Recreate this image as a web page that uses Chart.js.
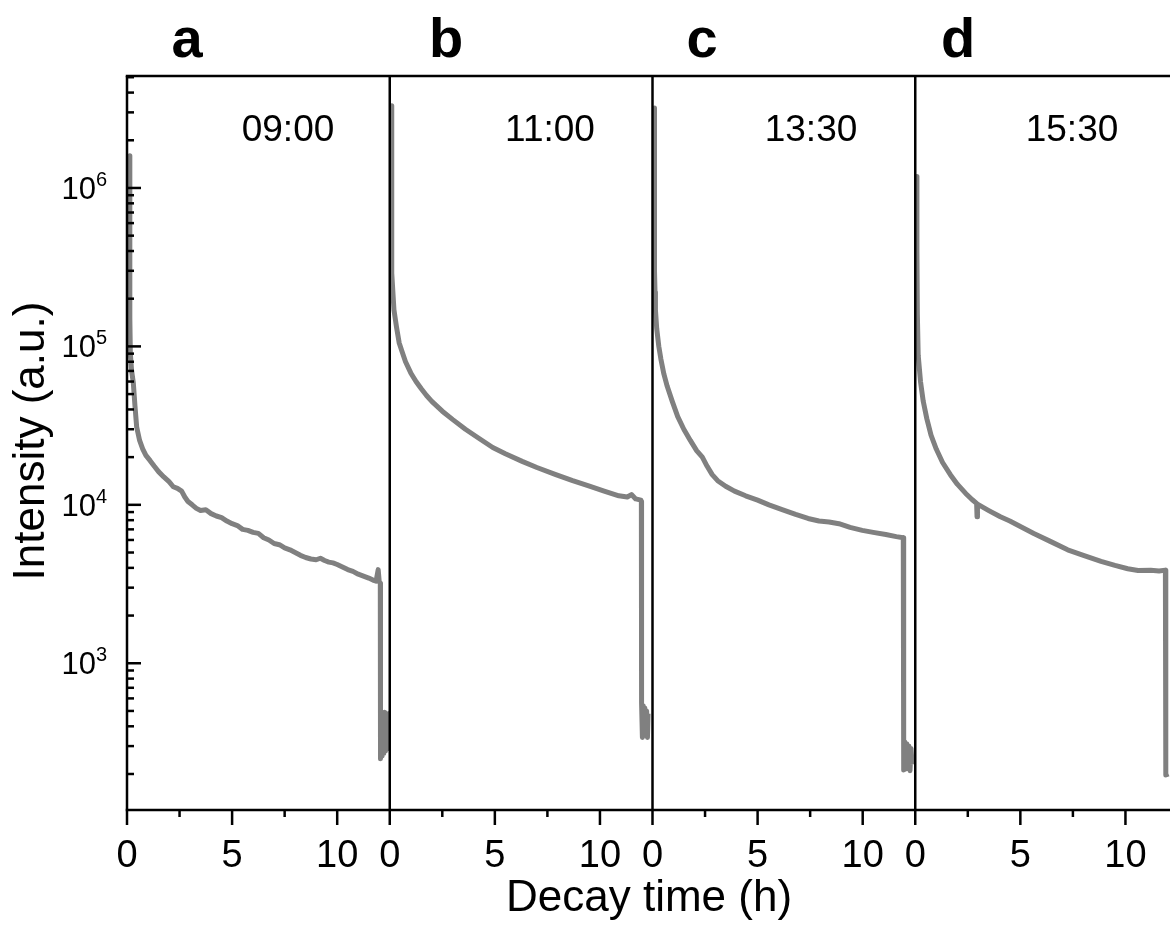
<!DOCTYPE html>
<html>
<head>
<meta charset="utf-8">
<script src="https://cdn.jsdelivr.net/npm/chart.js@4.4.1/dist/chart.umd.min.js"></script>
<style>
  html, body { margin: 0; padding: 0; background: #fff; overflow: hidden; width: 1170px; height: 929px; }
  #wrap { position: absolute; left: 0; top: 0; width: 1178px; height: 929px; }
  canvas { display: block; }
</style>
</head>
<body>
<div id="wrap"><canvas id="c" width="1178" height="929"></canvas></div>
<script>
// ---------------- data ----------------
const panelLetters = ['a', 'b', 'c', 'd'];
const panelTimes = ['09:00', '11:00', '13:30', '15:30'];
const xTickValues = [0, 5, 10];
const xMinorTicks = [2.5, 7.5];
const yLabelExponents = [3, 4, 5, 6];
const yDecades = [1e2, 1e3, 1e4, 1e5, 1e6];
const xMin = 0, xMax = 12.5;
const yMin = 118.5, yMax = 5.09e6;

// [decay time (h), intensity (a.u.)]
const panelA = [[0.12,1.6e6],[0.13,4e5],[0.14,1.5e5],[0.16,9e4],[0.22,7e4],[0.30,5.9e4],[0.38,4.2e4],[0.46,3.1e4],
  [0.60,2.55e4],[0.75,2.25e4],[0.90,2.05e4],[1.10,1.9e4],[1.30,1.75e4],[1.50,1.62e4],[1.75,1.5e4],[2.00,1.4e4],
  [2.20,1.3e4],[2.40,1.27e4],[2.60,1.22e4],[2.75,1.12e4],[2.90,1.05e4],[3.10,1.0e4],[3.30,9.5e3],[3.50,9.2e3],
  [3.75,9.3e3],[4.00,8.8e3],[4.25,8.5e3],[4.50,8.3e3],[4.75,7.9e3],[5.00,7.6e3],[5.25,7.4e3],[5.50,7.0e3],
  [5.75,6.9e3],[6.00,6.7e3],[6.25,6.6e3],[6.50,6.2e3],[6.75,6.0e3],[7.00,5.7e3],[7.25,5.6e3],[7.50,5.35e3],
  [7.75,5.2e3],[8.00,5.0e3],[8.25,4.8e3],[8.50,4.65e3],[8.75,4.55e3],[9.00,4.5e3],[9.20,4.6e3],[9.40,4.45e3],
  [9.60,4.35e3],[9.80,4.3e3],[10.00,4.2e3],[10.25,4.05e3],[10.50,3.9e3],[10.75,3.8e3],[11.00,3.65e3],[11.25,3.55e3],
  [11.50,3.45e3],[11.70,3.35e3],[11.85,3.3e3],[11.95,3.9e3],[12.00,3.27e3],[12.05,3.2e3],[12.06,250],[12.10,480],
  [12.14,260],[12.18,470],[12.22,270],[12.26,490],[12.30,280],[12.34,460],[12.38,300],[12.42,480],[12.45,290]];

const panelB = [[0.08,3.3e6],[0.09,1e6],[0.10,2.9e5],[0.20,1.7e5],[0.32,1.33e5],[0.45,1.05e5],[0.56,9.5e4],
  [0.75,8.0e4],[1.00,6.8e4],[1.25,6.0e4],[1.50,5.4e4],[1.75,4.9e4],[2.00,4.5e4],[2.50,3.9e4],[3.00,3.45e4],
  [3.60,3.0e4],[4.20,2.65e4],[4.90,2.3e4],[5.50,2.1e4],[6.30,1.88e4],[7.00,1.72e4],[7.90,1.55e4],[8.70,1.42e4],
  [9.50,1.31e4],[10.20,1.22e4],[10.90,1.14e4],[11.30,1.12e4],[11.50,1.16e4],[11.70,1.09e4],[11.95,1.07e4],
  [11.97,1.05e4],[11.98,560],[12.02,340],[12.06,540],[12.10,360],[12.14,520],[12.18,350],[12.22,500],[12.26,340],[12.29,480]];

const panelC = [[0.08,3.2e6],[0.09,8e5],[0.10,3e5],[0.12,2.2e5],[0.14,1.7e5],[0.20,1.3e5],[0.30,1.0e5],[0.40,8.3e4],
  [0.54,6.7e4],[0.70,5.6e4],[0.94,4.5e4],[1.20,3.6e4],[1.49,3.0e4],[1.80,2.55e4],[2.10,2.2e4],[2.37,2.0e4],
  [2.60,1.75e4],[2.84,1.55e4],[3.10,1.42e4],[3.48,1.31e4],[3.90,1.22e4],[4.43,1.14e4],[5.00,1.07e4],[5.54,1.0e4],
  [6.20,9.3e3],[6.81,8.7e3],[7.40,8.2e3],[7.92,7.9e3],[8.40,7.8e3],[8.87,7.6e3],[9.40,7.2e3],[9.98,6.9e3],
  [10.50,6.7e3],[11.10,6.5e3],[11.60,6.3e3],[11.93,6.2e3],[11.95,212],[12.00,320],[12.05,215],[12.10,310],
  [12.15,220],[12.20,300],[12.25,210],[12.30,290],[12.35,230]];

const panelD = [[0.07,1.18e6],[0.08,4e5],[0.10,1.6e5],[0.14,8.8e4],[0.25,6.0e4],[0.38,4.5e4],[0.55,3.5e4],
  [0.75,2.75e4],[1.00,2.25e4],[1.30,1.85e4],[1.67,1.55e4],[2.00,1.35e4],[2.40,1.18e4],[2.70,1.08e4],[2.92,1.02e4],
  [2.94,8.4e3],[2.96,1.01e4],[3.50,9.2e3],[4.05,8.4e3],[4.50,7.9e3],[5.00,7.3e3],[5.64,6.6e3],[6.40,5.9e3],
  [7.25,5.2e3],[8.00,4.8e3],[8.84,4.4e3],[9.50,4.15e3],[10.11,3.95e3],[10.60,3.85e3],[11.20,3.87e3],[11.60,3.82e3],
  [11.90,3.87e3],[11.92,197],[12.05,200]];

const panels = [panelA, panelB, panelC, panelD];

// ---------------- style ----------------
const FONT = '"Liberation Sans", Arial, Helvetica, sans-serif';
const LINE_COLOR = 'rgb(128,128,128)';
const AXIS_W = 2.5;

const xScaleIds = ['x0', 'x1', 'x2', 'x3'];

function noPad(s) { s.paddingLeft = 0; s.paddingRight = 0; s.paddingTop = 0; s.paddingBottom = 0; }

const scales = {
  y: {
    type: 'logarithmic', position: 'left', min: yMin, max: yMax,
    grid: { display: false, drawTicks: false }, border: { display: false },
    ticks: { display: false },
    afterFit: s => { s.width = 127; noPad(s); }
  }
};
xScaleIds.forEach(id => {
  scales[id] = {
    type: 'linear', position: 'bottom', stack: 'panels', stackWeight: 1,
    min: xMin, max: xMax,
    grid: { display: false, drawTicks: false }, border: { display: false },
    ticks: { color: '#000', font: { family: FONT, size: 38 }, padding: 24, autoSkip: false, maxRotation: 0, minRotation: 0 },
    afterBuildTicks: s => { s.ticks = xTickValues.map(v => ({ value: v })); },
    afterFit: s => { s.height = 119; noPad(s); }
  };
});

const datasets = panels.map((p, i) => ({
  label: panelTimes[i],
  data: p.map(([t, v]) => ({ x: t, y: v })),
  xAxisID: xScaleIds[i], yAxisID: 'y',
  borderColor: LINE_COLOR, borderWidth: 5, pointRadius: 0, tension: 0, fill: false,
  borderJoinStyle: 'round', borderCapStyle: 'butt'
}));

function seg(ctx, x1, y1, x2, y2) { ctx.beginPath(); ctx.moveTo(x1, y1); ctx.lineTo(x2, y2); ctx.stroke(); }

const framePlugin = {
  id: 'frame',
  afterDatasetsDraw(chart) {
    const { ctx, chartArea: a, scales: sc } = chart;
    const y = sc.y;
    ctx.save();
    ctx.strokeStyle = '#000';
    ctx.lineWidth = AXIS_W;
    ctx.lineCap = 'butt';
    // box
    seg(ctx, a.left - AXIS_W / 2, a.top, a.right, a.top);
    seg(ctx, a.left - AXIS_W / 2, a.bottom, a.right, a.bottom);
    seg(ctx, a.left, a.top, a.left, a.bottom);
    // dividers between panels
    xScaleIds.slice(1).forEach(id => {
      const px = sc[id].getPixelForValue(0);
      seg(ctx, px, a.top, px, a.bottom);
    });
    // x ticks (outward)
    xScaleIds.forEach(id => {
      const s = sc[id];
      xTickValues.forEach(v => { const px = s.getPixelForValue(v); seg(ctx, px, a.bottom, px, a.bottom + 15); });
      xMinorTicks.forEach(v => { const px = s.getPixelForValue(v); seg(ctx, px, a.bottom, px, a.bottom + 7); });
    });
    // y ticks (inward)
    yDecades.forEach(d => {
      for (let m = 1; m <= 9; m++) {
        const v = m * d;
        if (v < yMin || v > yMax) continue;
        const py = y.getPixelForValue(v);
        seg(ctx, a.left, py, a.left + (m === 1 ? 14 : 7), py);
      }
    });
    // y tick labels 10^n
    ctx.fillStyle = '#000';
    yLabelExponents.forEach(e => {
      const py = y.getPixelForValue(Math.pow(10, e));
      ctx.font = '31px ' + FONT;
      ctx.textAlign = 'right'; ctx.textBaseline = 'alphabetic';
      ctx.fillText('10', 96, py + 11);
      ctx.font = '20px ' + FONT;
      ctx.textAlign = 'left';
      ctx.fillText(String(e), 96, py - 2);
    });
    // panel letters and times
    const letterX = [187, 446, 702, 958];
    const timeX = [288, 550, 811, 1072];
    panelLetters.forEach((L, i) => {
      ctx.font = 'bold 56px ' + FONT;
      ctx.textAlign = 'center'; ctx.textBaseline = 'alphabetic';
      ctx.fillText(L, letterX[i], 57);
      ctx.font = '37px ' + FONT;
      ctx.fillText(panelTimes[i], timeX[i], 141);
    });
    // axis titles
    ctx.font = '44px ' + FONT;
    ctx.textAlign = 'center'; ctx.textBaseline = 'alphabetic';
    ctx.fillText('Decay time (h)', 649, 911);
    ctx.save();
    ctx.translate(44, 441);
    ctx.rotate(-Math.PI / 2);
    ctx.fillText('Intensity (a.u.)', 0, 0);
    ctx.restore();
    ctx.restore();
  }
};

new Chart(document.getElementById('c'), {
  type: 'line',
  data: { datasets },
  options: {
    responsive: false, animation: false, events: [],
    layout: { padding: { left: 0, top: 76, right: 0, bottom: 0 } },
    plugins: { legend: { display: false }, tooltip: { enabled: false }, title: { display: false } },
    scales
  },
  plugins: [framePlugin]
});
</script>
</body>
</html>
